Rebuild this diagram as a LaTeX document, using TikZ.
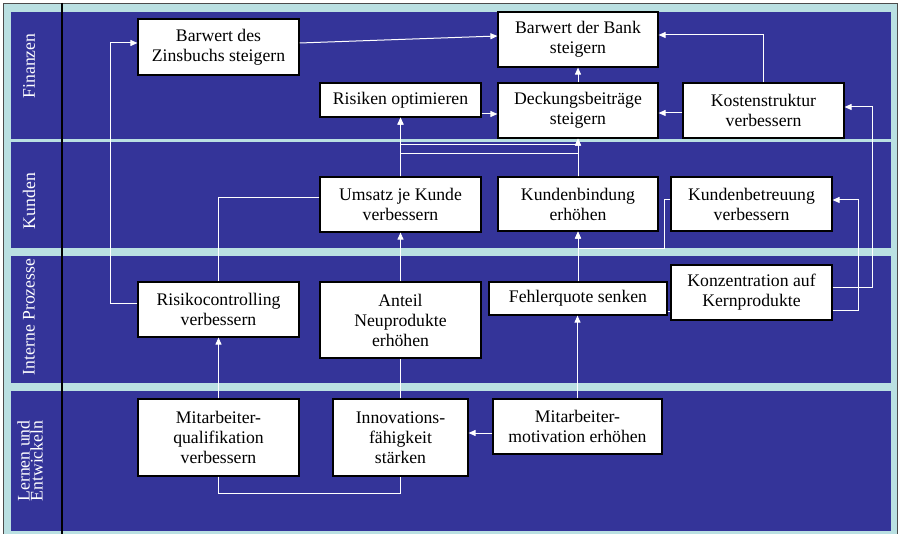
\documentclass[tikz,border=0pt]{standalone}
\usepackage{fontspec}
\setmainfont{Liberation Serif}
\usetikzlibrary{arrows.meta}
\definecolor{bandblue}{RGB}{52,52,153}
\definecolor{sepcyan}{RGB}{186,224,226}
\begin{document}
\begin{tikzpicture}[x=1pt,y=-1pt,
  box/.style={draw=black,line width=1.2pt,fill=white,inner sep=0pt,align=center,
    text=black,font=\fontsize{17.7}{20}\selectfont},
  lane/.style={text=white,rotate=90,align=center,inner sep=0pt,
    font=\fontsize{17.7}{13}\selectfont},
  conn/.style={draw=white,line width=1pt},
  arr/.style={conn,-{Triangle[length=7pt,width=6pt]}}]
\useasboundingbox (0,0) rectangle (899,534);
\fill[white] (0,0) rectangle (899,534);
% frame and bands
\filldraw[fill=sepcyan,draw=black!70,line width=0.8pt] (3,3) rectangle (897.5,540);
\fill[bandblue] (11,12) rectangle (891,139);
\fill[bandblue] (11,142) rectangle (891,248);
\fill[bandblue] (11,256) rectangle (891,383);
\fill[bandblue] (11,391) rectangle (891,531);
\draw[black,line width=1.2pt] (62,3) -- (62,534);
% lane labels
\node[lane] (l1) at (29,66) {Finanzen};
\node[lane] (l2) at (29,201) {Kunden};
\node[lane] (l3) at (29,317) {Interne Prozesse};
\node[lane] (l4) at (30,461) {Lernen und\\Entwickeln};
% boxes
\node[box,minimum width=161,minimum height=56] (zins) at (218.5,47) {Barwert des\\Zinsbuchs steigern};
\node[box,minimum width=160,minimum height=55] (bank) at (578,39.5) {Barwert der Bank\\steigern};
\node[box,minimum width=161,minimum height=34] (risk) at (400.5,100) {Risiken optimieren};
\node[box,minimum width=160,minimum height=55] (deck) at (578,110.5) {Deckungsbeiträge\\steigern};
\node[box,minimum width=161,minimum height=55] (kost) at (763.5,110.5) {Kostenstruktur\\verbessern};
\node[box,minimum width=161,minimum height=55] (ums) at (400.5,204.5) {Umsatz je Kunde\\verbessern};
\node[box,minimum width=160,minimum height=54] (kbind) at (578,204) {Kundenbindung\\erhöhen};
\node[box,minimum width=161,minimum height=54] (kbet) at (751.5,204) {Kundenbetreuung\\verbessern};
\node[box,minimum width=161,minimum height=55] (rc) at (218.5,309.5) {Risikocontrolling\\verbessern};
\node[box,minimum width=161,minimum height=76] (anteil) at (400.5,320) {Anteil\\Neuprodukte\\erhöhen};
\node[box,minimum width=178,minimum height=33] (fehler) at (578,298.5) {Fehlerquote senken};
\node[box,minimum width=161,minimum height=55] (konz) at (751.5,292.5) {Konzentration auf\\Kernprodukte};
\node[box,minimum width=161,minimum height=77] (mq) at (218.5,437.5) {Mitarbeiter-\\qualifikation\\verbessern};
\node[box,minimum width=135,minimum height=77] (innov) at (400.5,437.5) {Innovations-\\fähigkeit\\stärken};
\node[box,minimum width=169,minimum height=55] (mm) at (577.5,426.5) {Mitarbeiter-\\motivation erhöhen};
% connectors
\draw[arr] ([yshift=4pt]zins.east) -- ([yshift=3.5pt]bank.west);
\draw[arr] ([yshift=5.5pt]rc.west) -- ++(-27,0) |- ([yshift=4pt]zins.west);
\draw[arr] (mq.north) -- (rc.south);
\draw[conn] (mq.south) -- ++(0,17) -| (innov.south);
\draw[conn] (innov.north) -- (anteil.south);
\draw[arr] (anteil.north) -- (ums.south);
\draw[arr] (ums.north) -- (risk.south);
\draw[conn] ([yshift=6.5pt]ums.west) -| (rc.north);
\draw[arr] (kbind.north) -- ++(0,-32) -| (risk.south);
\draw[arr] (ums.north) -- ++(0,-23) -| (deck.south);
\draw[arr] (kbind.north) -- (deck.south);
\draw[arr] ([yshift=-14pt]risk.east) -- ([yshift=-14pt]risk.east -| deck.west);
\draw[arr] (deck.north) -- (bank.south);
\draw[arr] ([yshift=-2.5pt]kost.west) -- ([yshift=-2.5pt]kost.west -| deck.east);
\draw[arr] (kost.north) |- ([yshift=4.5pt]bank.east);
\draw[arr] (fehler.north) -- (kbind.south);
\draw[arr] (mm.north) -- (mm.north |- fehler.south);
\draw[arr] ([yshift=-6.5pt]mm.west) -- ([yshift=-6.5pt]mm.west -| innov.east);
\draw[arr] ([yshift=4pt]kbet.west) -- ++(-6,0) -- ++(0,49) -| (kbind.south);
\draw[arr] ([yshift=4.5pt]konz.east) -- ++(40,0) |- ([yshift=3.5pt]kost.east);
\draw[arr] ([yshift=-18.5pt]konz.east) -- ++(26,0) |- ([yshift=4pt]kbet.east);
\draw[conn] ([yshift=-13pt]fehler.east) -- ([yshift=-13pt]fehler.east -| konz.west);
\end{tikzpicture}
\end{document}
